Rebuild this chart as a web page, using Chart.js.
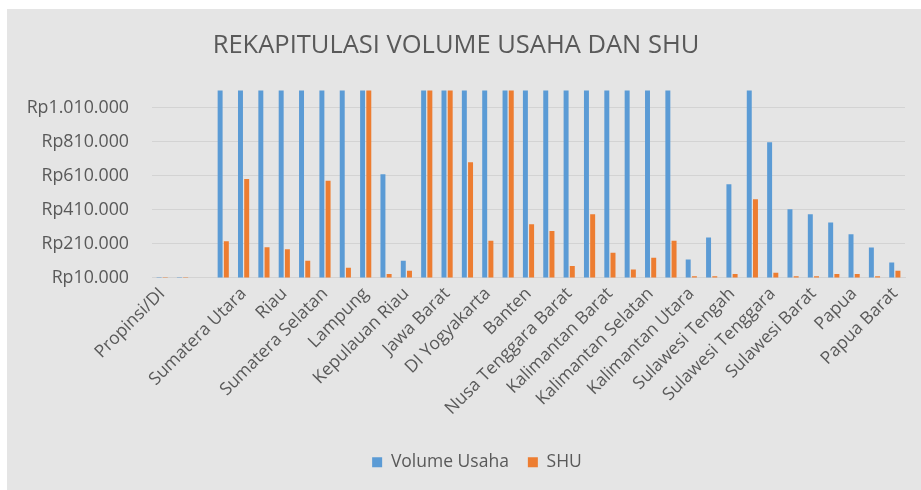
<!DOCTYPE html>
<html>
<head>
<meta charset="utf-8">
<title>Rekapitulasi Volume Usaha dan SHU</title>
<script src="https://cdn.jsdelivr.net/npm/chart.js@4/dist/chart.umd.min.js"></script>
<style>
  html, body { margin: 0; padding: 0; background: #ffffff; }
  #wrap { width: 921px; height: 490px; }
</style>
</head>
<body>
<div id="wrap"><canvas id="rekapChart" width="921" height="490"></canvas></div>
<script>
// Kategori (baris tabel), termasuk baris judul dan baris kosong
const provinsi = [
  "Propinsi/DI", "", "",
  "Aceh", "Sumatera Utara", "Sumatera Barat", "Riau", "Jambi",
  "Sumatera Selatan", "Bengkulu", "Lampung", "Kepulauan Bangka Belitung",
  "Kepulauan Riau", "DKI Jakarta", "Jawa Barat", "Jawa Tengah",
  "DI Yogyakarta", "Jawa Timur", "Banten", "Bali", "Nusa Tenggara Barat",
  "Nusa Tenggara Timur", "Kalimantan Barat", "Kalimantan Tengah",
  "Kalimantan Selatan", "Kalimantan Timur", "Kalimantan Utara",
  "Sulawesi Utara", "Sulawesi Tengah", "Sulawesi Selatan",
  "Sulawesi Tenggara", "Gorontalo", "Sulawesi Barat", "Maluku", "Papua",
  "Maluku Utara", "Papua Barat"
];

// Volume Usaha (Rp) - nilai di atas batas sumbu terpotong di atas
const volumeUsaha = [
  12000, 12000, null,
  1850000, 3200000, 1700000, 2400000, 1300000,
  2900000, 1450000, 5200000, 618000,
  108000, 6800000, 8100000, 2600000,
  1900000, 7400000, 2200000, 1600000, 1250000,
  1350000, 2100000, 1200000,
  1550000, 1750000, 116000,
  245000, 559000, 2300000,
  806000, 412000, 382000, 333000, 265000,
  186000, 98000
];

// SHU (Rp)
const shu = [
  12000, 12000, null,
  223000, 590000, 188000, 177000, 108000,
  580000, 67000, 1400000, 30000,
  49000, 1900000, 1650000, 688000,
  226000, 2100000, 324000, 284000, 77000,
  382000, 155000, 57000,
  126000, 226000, 18000,
  18000, 30000, 471000,
  38000, 18000, 18000, 30000, 30000,
  18000, 49000
];

// Label sumbu Y
const yTicks = [10000, 210000, 410000, 610000, 810000, 1010000];
const yMin = 10000;
const yMax = 1110000;

const textColor = "#595959";
const gridColor = "#d3d3d3";
const bgColor = "#e5e5e5";

const formatRp = (v) =>
  "Rp" + String(v).replace(/\B(?=(\d{3})+(?!\d))/g, ".");

// Latar abu-abu seperti area grafik Excel
const background = {
  id: "background",
  beforeDraw(chart) {
    const ctx = chart.ctx;
    ctx.save();
    ctx.fillStyle = "#ffffff";
    ctx.fillRect(0, 0, chart.width, chart.height);
    ctx.fillStyle = bgColor;
    ctx.fillRect(7, 9, chart.width - 7, chart.height - 9);
    ctx.restore();
  },
};

// Geser legenda sedikit ke kanan (seperti posisi di Excel)
const legendShift = {
  id: "legendShift",
  afterLayout(chart) {
    chart.legend.left += 42;
  },
};

const ctx = document.getElementById("rekapChart").getContext("2d");

const rekapChart = new Chart(ctx, {
  type: "bar",
  data: {
    labels: provinsi,
    datasets: [
      {
        label: "Volume Usaha",
        data: volumeUsaha,
        backgroundColor: "#5b9bd5",
        categoryPercentage: 0.61,
        barPercentage: 0.8,
      },
      {
        label: "SHU",
        data: shu,
        backgroundColor: "#ed7d31",
        categoryPercentage: 0.61,
        barPercentage: 0.8,
      },
    ],
  },
  options: {
    responsive: false,
    animation: false,
    layout: { padding: { left: 7, top: 9, right: 16, bottom: 9 } },
    plugins: {
      title: {
        display: true,
        text: "REKAPITULASI VOLUME USAHA DAN SHU",
        color: textColor,
        font: { family: "Open Sans", size: 25.5, weight: "normal" },
        padding: { top: 21, bottom: 30 },
      },
      legend: {
        position: "bottom",
        labels: {
          color: textColor,
          font: { family: "Open Sans", size: 17.5 },
          boxWidth: 10,
          boxHeight: 10,
          padding: 19,
        },
      },
      tooltip: { enabled: false },
    },
    scales: {
      x: {
        grid: { display: false, drawTicks: false },
        border: { color: gridColor },
        ticks: {
          autoSkip: false,
          maxRotation: 45,
          minRotation: 45,
          padding: 6,
          color: textColor,
          font: { family: "Open Sans", size: 17.5 },
          // Excel menampilkan label setiap dua kategori
          callback: (val, i) => (i % 2 === 0 ? provinsi[i] : ""),
        },
        afterFit: (scale) => {
          scale.height = 157;
        },
      },
      y: {
        min: yMin,
        max: yMax,
        grid: { color: gridColor, drawTicks: false },
        border: { display: false },
        ticks: {
          padding: 23,
          color: textColor,
          font: { family: "Open Sans", size: 17.8 },
          callback: (v) => formatRp(v),
        },
        afterBuildTicks: (axis) => {
          axis.ticks = yTicks.map((v) => ({ value: v }));
        },
        afterFit: (scale) => {
          scale.width = 145;
        },
      },
    },
  },
  plugins: [background, legendShift],
});
</script>
</body>
</html>
